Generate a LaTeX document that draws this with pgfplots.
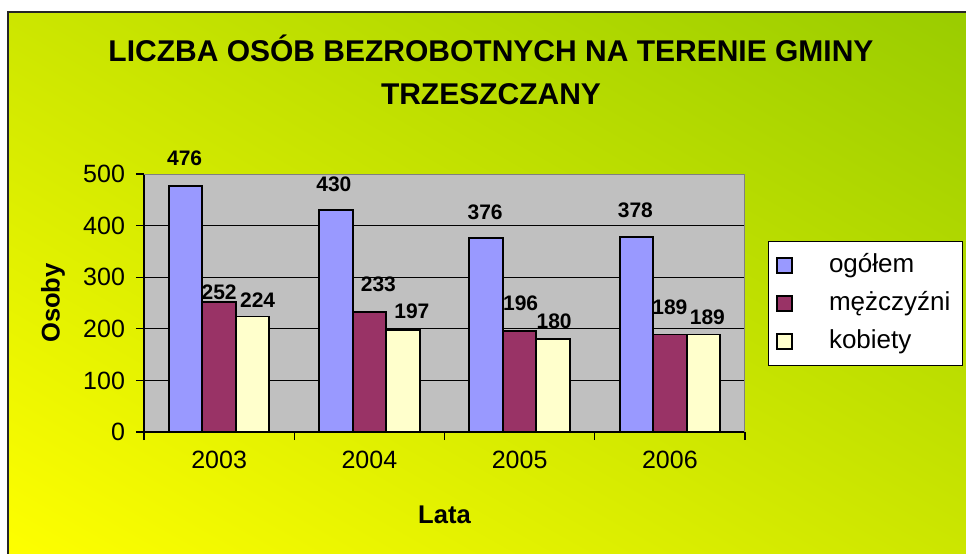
\documentclass[border=0pt]{standalone}
\usepackage{pgfplots}
\pgfplotsset{compat=1.18}
\usepackage{pgfplotstable}
\usetikzlibrary{shadings}
\usepackage{fontspec}
\setmainfont{Liberation Sans}
\definecolor{cOg}{HTML}{9999FF}
\definecolor{cMe}{HTML}{993366}
\definecolor{cKo}{HTML}{FFFFCC}
\definecolor{cBg}{HTML}{C0C0C0}
\definecolor{cYel}{HTML}{FFFF00}
\definecolor{cGrn}{HTML}{99CC00}
\definecolor{cMid}{HTML}{CCE600}

\pgfplotstableread{
x y lx ly
0 476 -0.5 14
1 430 -1 13
2 376 -0.5 13
3 378 -0.5 13.5
}\ogolem
\pgfplotstableread{
x y lx ly
0 252 0 5
1 233 4.5 13.5
2 196 0.5 14
3 189 0 13.5
}\mezczyzni
\pgfplotstableread{
x y lx ly
0 224 2.5 8
1 197 4.5 9.5
2 180 0.5 9
3 189 2 8.5
}\kobiety

\begin{document}
\begin{tikzpicture}
\path[use as bounding box] (0,0) rectangle (483pt,276.5pt);
\clip (0,0) rectangle (483pt,276.5pt);
\fill[white] (0,0) rectangle (483pt,276.5pt);
\draw[line width=1pt, draw=black!85, lower left=cYel, upper right=cGrn, upper left=cMid, lower right=cMid]
  (4pt,270.5pt) rectangle (490pt,-5pt);
\node[align=center, font=\fontsize{15}{21.5}\selectfont\bfseries] at (245.5pt,241.75pt)
  {LICZBA OSÓB BEZROBOTNYCH NA TERENIE GMINY\\TRZESZCZANY};
\begin{axis}[
  at={(72pt,60.5pt)}, anchor=south west,
  scale only axis, width=300.5pt, height=129pt,
  xmin=-0.5, xmax=3.5, ymin=0, ymax=500,
  axis x line*=bottom, axis y line*=left,
  axis line style={line width=0.6pt, black, -},
  axis background/.style={fill=cBg},
  ybar=0pt, bar width=16.75pt,
  xtick={-0.5,0.5,1.5,2.5,3.5}, xticklabels={},
  extra x ticks={0,1,2,3}, extra x tick labels={2003,2004,2005,2006},
  extra x tick style={major tick length=0pt, grid=none, tick style={draw=none}},
  ytick={0,100,200,300,400,500},
  ymajorgrids, grid style={black, line width=0.5pt},
  tick align=outside, major tick length=4pt,
  tick style={black, line width=0.6pt},
  tick label style={font=\fontsize{12.5}{14}\selectfont},
  /pgf/number format/assume math mode=true,
  xticklabel style={yshift=-6pt},
  yticklabel style={xshift=-2pt},
  xlabel={Lata}, ylabel={Osoby},
  label style={font=\fontsize{12.8}{15}\selectfont\bfseries},
  xlabel style={at={(axis description cs:0.5,-0.3217)}, anchor=center},
  ylabel style={at={(axis description cs:-0.1514,0.5)}, anchor=center, rotate=0},
  nodes near coords,
  visualization depends on={\thisrow{lx}\as\ldx},
  visualization depends on={\thisrow{ly}\as\ldy},
  every node near coord/.append style={font=\fontsize{10.5}{12}\selectfont\bfseries, anchor=center, xshift=\ldx pt, yshift=\ldy pt, inner sep=0pt},
  legend style={at={(1.038,0.740)}, anchor=north west, draw=black, line width=0.6pt, fill=white,
    font=\fontsize{13}{15}\selectfont, inner xsep=4pt, inner ysep=4pt, row sep=3pt,
    nodes={text height=9.5pt, text depth=2.5pt},
    /tikz/every odd column/.append style={column sep=16pt}},
  legend cell align=left,
  legend image code/.code={\draw[#1, line width=0.8pt] (0pt,-3.75pt) rectangle (7.5pt,3.75pt);},
]
\addplot[fill=cOg, draw=black, line width=0.9pt] table[x=x,y=y] {\ogolem};
\addplot[fill=cMe, draw=black, line width=0.9pt] table[x=x,y=y] {\mezczyzni};
\addplot[fill=cKo, draw=black, line width=0.9pt] table[x=x,y=y] {\kobiety};
\legend{ogółem, mężczyźni, kobiety}
\draw[black!50, line width=1pt] (rel axis cs:0,1) -- (rel axis cs:1,1) -- (rel axis cs:1,0);
\end{axis}
\end{tikzpicture}
\end{document}
